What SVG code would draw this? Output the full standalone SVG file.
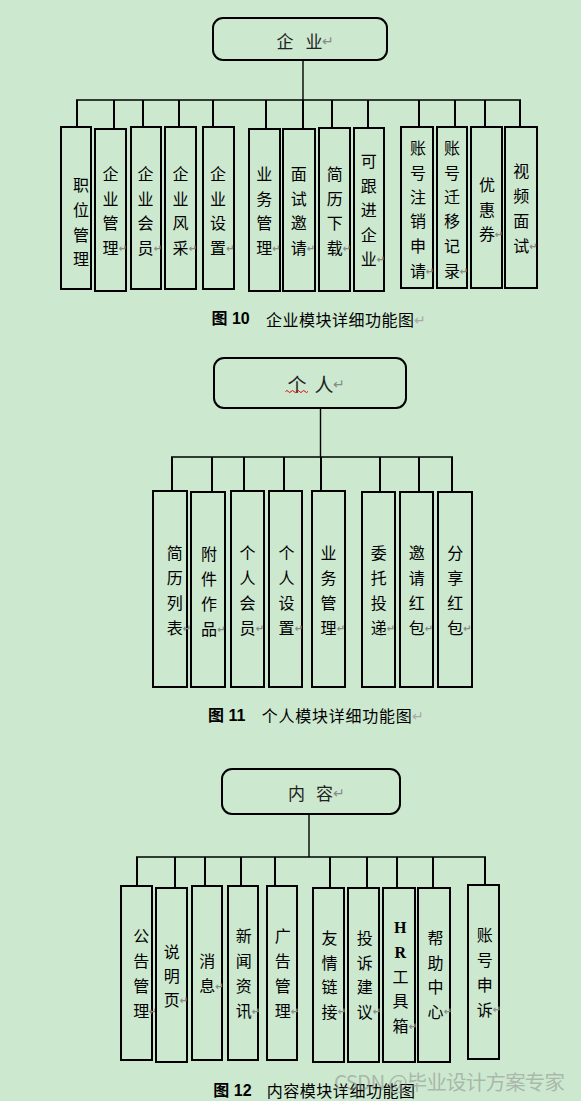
<svg xmlns="http://www.w3.org/2000/svg" width="581" height="1101" viewBox="0 0 581 1101">
<style>
.bx{fill:none;stroke:#000;stroke-width:2}
.rb{fill:none;stroke:#000;stroke-width:2}
.bus{stroke:#000;stroke-width:1.4;fill:none}
.stem{stroke:#000;stroke-width:2;fill:none}
.c{font-family:"Noto Sans CJK SC","Noto Sans CJK JP",sans-serif;font-size:16px;fill:#000;text-anchor:middle;dominant-baseline:central}
.rt{font-family:"Noto Sans CJK SC","Noto Sans CJK JP",sans-serif;font-size:17px;fill:#222;text-anchor:middle;dominant-baseline:central}
.pm{font-family:"DejaVu Sans",sans-serif;font-size:10px;font-weight:bold;fill:#8a8a8a;text-anchor:start;dominant-baseline:central}
.pr{font-family:"DejaVu Sans",sans-serif;font-size:14px;fill:#8a8a8a;text-anchor:start;dominant-baseline:central}
.cb{font-family:"Liberation Sans","Noto Sans CJK SC",sans-serif;font-size:16px;font-weight:bold;fill:#000;dominant-baseline:central}
.cr{font-family:"Noto Sans CJK SC","Noto Sans CJK JP",sans-serif;font-size:16px;fill:#000;dominant-baseline:central}
.lat{font-family:"Liberation Serif",serif;font-size:16px;font-weight:bold;fill:#000;text-anchor:middle;dominant-baseline:central}
</style>
<rect width="581" height="1101" fill="#cce8cf"/>

<g id="connectors">
  <line class="bus" x1="303" y1="60" x2="303" y2="100"/>
  <line class="bus" x1="76" y1="100" x2="521" y2="100"/>
  <line class="stem" x1="77" y1="100" x2="77" y2="127"/>
  <line class="stem" x1="114" y1="100" x2="114" y2="129"/>
  <line class="stem" x1="143" y1="100" x2="143" y2="127"/>
  <line class="stem" x1="179" y1="100" x2="179" y2="127"/>
  <line class="stem" x1="213" y1="100" x2="213" y2="127"/>
  <line class="stem" x1="266" y1="100" x2="266" y2="129"/>
  <line class="stem" x1="303" y1="100" x2="303" y2="129"/>
  <line class="stem" x1="332" y1="100" x2="332" y2="128"/>
  <line class="stem" x1="368" y1="100" x2="368" y2="128"/>
  <line class="stem" x1="419" y1="100" x2="419" y2="127"/>
  <line class="stem" x1="455" y1="100" x2="455" y2="127"/>
  <line class="stem" x1="485" y1="100" x2="485" y2="127"/>
  <line class="stem" x1="520" y1="100" x2="520" y2="127"/>
  <line class="bus" x1="320.5" y1="408" x2="320.5" y2="457"/>
  <line class="bus" x1="171" y1="457" x2="453" y2="457"/>
  <line class="stem" x1="172" y1="457" x2="172" y2="491"/>
  <line class="stem" x1="212" y1="457" x2="212" y2="492"/>
  <line class="stem" x1="244" y1="457" x2="244" y2="491"/>
  <line class="stem" x1="284" y1="457" x2="284" y2="491"/>
  <line class="stem" x1="321" y1="457" x2="321" y2="491"/>
  <line class="stem" x1="380" y1="457" x2="380" y2="492"/>
  <line class="stem" x1="419" y1="457" x2="419" y2="492"/>
  <line class="stem" x1="452" y1="457" x2="452" y2="492"/>
  <line class="bus" x1="309" y1="814" x2="309" y2="857"/>
  <line class="bus" x1="136" y1="857" x2="486" y2="857"/>
  <line class="stem" x1="137" y1="857" x2="137" y2="886"/>
  <line class="stem" x1="175" y1="857" x2="175" y2="888"/>
  <line class="stem" x1="205" y1="857" x2="205" y2="886"/>
  <line class="stem" x1="241" y1="857" x2="241" y2="886"/>
  <line class="stem" x1="275" y1="857" x2="275" y2="886"/>
  <line class="stem" x1="330" y1="857" x2="330" y2="888"/>
  <line class="stem" x1="367" y1="857" x2="367" y2="888"/>
  <line class="stem" x1="397" y1="857" x2="397" y2="888"/>
  <line class="stem" x1="433" y1="857" x2="433" y2="888"/>
  <line class="stem" x1="485" y1="857" x2="485" y2="885"/>
</g>

<g id="root-qiye">
  <rect class="rb" x="213" y="18" width="174" height="42" rx="10"/>
  <text class="rt"><tspan x="285" y="40">企</tspan><tspan x="314" y="40">业</tspan></text>
  <text class="pr" x="322" y="41">↵</text>
</g>
<g id="n1-zhiwei">
  <rect class="bx" x="61" y="127" width="30" height="162"/>
  <text class="c"><tspan x="81" y="183.5">职</tspan><tspan x="81" y="208.5">位</tspan><tspan x="81" y="233.5">管</tspan><tspan x="81" y="258">理</tspan></text>
</g>
<g id="n1-qyguanli">
  <rect class="bx" x="95" y="129" width="31" height="162"/>
  <text class="c"><tspan x="110.5" y="173">企</tspan><tspan x="110.5" y="197.5">业</tspan><tspan x="110.5" y="222">管</tspan><tspan x="110.5" y="246.8">理</tspan></text>
  <text class="pm" x="118.5" y="248">↵</text>
</g>
<g id="n1-qyhuiyuan">
  <rect class="bx" x="131" y="127" width="30" height="162"/>
  <text class="c"><tspan x="145.5" y="173">企</tspan><tspan x="145.5" y="197.5">业</tspan><tspan x="145.5" y="222">会</tspan><tspan x="145.5" y="246.8">员</tspan></text>
  <text class="pm" x="153.5" y="248">↵</text>
</g>
<g id="n1-qyfengcai">
  <rect class="bx" x="165" y="127" width="31" height="162"/>
  <text class="c"><tspan x="180.5" y="173">企</tspan><tspan x="180.5" y="197.5">业</tspan><tspan x="180.5" y="222">风</tspan><tspan x="180.5" y="246.8">采</tspan></text>
  <text class="pm" x="188.5" y="248">↵</text>
</g>
<g id="n1-qyshezhi">
  <rect class="bx" x="203" y="127" width="31" height="162"/>
  <text class="c"><tspan x="218" y="173">企</tspan><tspan x="218" y="197.5">业</tspan><tspan x="218" y="222">设</tspan><tspan x="218" y="246.8">置</tspan></text>
  <text class="pm" x="226" y="248">↵</text>
</g>
<g id="n1-yewu">
  <rect class="bx" x="249" y="129" width="31" height="162"/>
  <text class="c"><tspan x="264.2" y="173">业</tspan><tspan x="264.2" y="197.5">务</tspan><tspan x="264.2" y="222">管</tspan><tspan x="264.2" y="246.8">理</tspan></text>
  <text class="pm" x="272" y="248">↵</text>
</g>
<g id="n1-mianshi">
  <rect class="bx" x="283" y="129" width="32" height="162"/>
  <text class="c"><tspan x="298.7" y="173">面</tspan><tspan x="298.7" y="197.5">试</tspan><tspan x="298.7" y="222">邀</tspan><tspan x="298.7" y="246.8">请</tspan></text>
  <text class="pm" x="306.5" y="248">↵</text>
</g>
<g id="n1-jianli">
  <rect class="bx" x="319" y="128" width="31" height="163"/>
  <text class="c"><tspan x="334.7" y="173">简</tspan><tspan x="334.7" y="198">历</tspan><tspan x="334.7" y="222">下</tspan><tspan x="334.7" y="247">载</tspan></text>
  <text class="pm" x="342.5" y="248">↵</text>
</g>
<g id="n1-kegenjin">
  <rect class="bx" x="354" y="128" width="30" height="163"/>
  <text class="c"><tspan x="368.8" y="160">可</tspan><tspan x="368.8" y="185">跟</tspan><tspan x="368.8" y="209.3">进</tspan><tspan x="368.8" y="233.5">企</tspan><tspan x="368.8" y="258.3">业</tspan></text>
  <text class="pm" x="376.5" y="259.5">↵</text>
</g>
<g id="n1-zhuxiao">
  <rect class="bx" x="401" y="127" width="32" height="161"/>
  <text class="c"><tspan x="418" y="146.5">账</tspan><tspan x="418" y="171.5">号</tspan><tspan x="418" y="195.5">注</tspan><tspan x="418" y="220">销</tspan><tspan x="418" y="245">申</tspan><tspan x="418" y="270">请</tspan></text>
  <text class="pm" x="425.5" y="271">↵</text>
</g>
<g id="n1-qianyi">
  <rect class="bx" x="437" y="127" width="30" height="161"/>
  <text class="c"><tspan x="452" y="146.5">账</tspan><tspan x="452" y="171.5">号</tspan><tspan x="452" y="195.5">迁</tspan><tspan x="452" y="220">移</tspan><tspan x="452" y="245">记</tspan><tspan x="452" y="270">录</tspan></text>
  <text class="pm" x="459.5" y="271">↵</text>
</g>
<g id="n1-youhui">
  <rect class="bx" x="471" y="127" width="31" height="161"/>
  <text class="c"><tspan x="487" y="183.5">优</tspan><tspan x="487" y="208.5">惠</tspan><tspan x="487" y="233.3">券</tspan></text>
  <text class="pm" x="494.5" y="234.5">↵</text>
</g>
<g id="n1-shipin">
  <rect class="bx" x="505" y="127" width="32" height="161"/>
  <text class="c"><tspan x="521.3" y="170">视</tspan><tspan x="521.3" y="195">频</tspan><tspan x="521.3" y="220">面</tspan><tspan x="521.3" y="245">试</tspan></text>
  <text class="pm" x="529" y="246">↵</text>
</g>
<g id="caption10">
  <text class="cb" x="211.5" y="318.5">图 10</text>
  <text class="cr" x="266" y="318.5" textLength="148" lengthAdjust="spacing">企业模块详细功能图</text>
  <text class="pr" x="414" y="319.5" style="fill:#a8a8a8">↵</text>
</g>

<g id="root-geren">
  <rect class="rb" x="214" y="358" width="192" height="50" rx="10"/>
  <text class="rt" style="font-size:19px"><tspan x="297" y="383">个</tspan><tspan x="324" y="383">人</tspan></text>
  <text class="pr" x="333" y="384">↵</text>
  <path d="M285.5,391.5 q1.4,-2 2.8,0 t2.8,0 t2.8,0 t2.8,0 t2.8,0 t2.8,0 t2.8,0 t2.8,0" fill="none" stroke="#e00000" stroke-width="1"/>
</g>
<g id="n2-jianli">
  <rect class="bx" x="153" y="491" width="34" height="196"/>
  <text class="c"><tspan x="174.7" y="552">简</tspan><tspan x="174.7" y="577">历</tspan><tspan x="174.7" y="602">列</tspan><tspan x="174.7" y="627">表</tspan></text>
  <text class="pm" x="182.5" y="628">↵</text>
</g>
<g id="n2-fujian">
  <rect class="bx" x="191" y="492" width="34" height="195"/>
  <text class="c"><tspan x="209" y="553">附</tspan><tspan x="209" y="578">件</tspan><tspan x="209" y="603">作</tspan><tspan x="209" y="628">品</tspan></text>
  <text class="pm" x="217" y="629">↵</text>
</g>
<g id="n2-huiyuan">
  <rect class="bx" x="231" y="491" width="33" height="196"/>
  <text class="c"><tspan x="247.5" y="552">个</tspan><tspan x="247.5" y="577">人</tspan><tspan x="247.5" y="602">会</tspan><tspan x="247.5" y="627">员</tspan></text>
  <text class="pm" x="255.5" y="628">↵</text>
</g>
<g id="n2-shezhi">
  <rect class="bx" x="269" y="491" width="33" height="196"/>
  <text class="c"><tspan x="286.5" y="552">个</tspan><tspan x="286.5" y="577">人</tspan><tspan x="286.5" y="602">设</tspan><tspan x="286.5" y="627">置</tspan></text>
  <text class="pm" x="294.5" y="628">↵</text>
</g>
<g id="n2-yewu">
  <rect class="bx" x="312" y="491" width="33" height="196"/>
  <text class="c"><tspan x="328.5" y="552">业</tspan><tspan x="328.5" y="577">务</tspan><tspan x="328.5" y="602">管</tspan><tspan x="328.5" y="627">理</tspan></text>
  <text class="pm" x="336.5" y="628">↵</text>
</g>
<g id="n2-weituo">
  <rect class="bx" x="362" y="492" width="33" height="195"/>
  <text class="c"><tspan x="378.7" y="552">委</tspan><tspan x="378.7" y="577">托</tspan><tspan x="378.7" y="602">投</tspan><tspan x="378.7" y="627">递</tspan></text>
  <text class="pm" x="386.5" y="628">↵</text>
</g>
<g id="n2-yaoqing">
  <rect class="bx" x="400" y="492" width="33" height="195"/>
  <text class="c"><tspan x="416.7" y="552">邀</tspan><tspan x="416.7" y="577">请</tspan><tspan x="416.7" y="602">红</tspan><tspan x="416.7" y="627">包</tspan></text>
  <text class="pm" x="424.5" y="628">↵</text>
</g>
<g id="n2-fenxiang">
  <rect class="bx" x="438" y="492" width="34" height="195"/>
  <text class="c"><tspan x="455.3" y="552">分</tspan><tspan x="455.3" y="577">享</tspan><tspan x="455.3" y="602">红</tspan><tspan x="455.3" y="627">包</tspan></text>
  <text class="pm" x="463" y="628">↵</text>
</g>
<g id="caption11">
  <text class="cb" x="208" y="715">图 11</text>
  <text class="cr" x="261.7" y="715" textLength="150" lengthAdjust="spacing">个人模块详细功能图</text>
  <text class="pr" x="412" y="716" style="fill:#a8a8a8">↵</text>
</g>

<g id="root-neirong">
  <rect class="rb" x="222" y="769" width="178" height="45" rx="10"/>
  <text class="rt"><tspan x="296.5" y="792">内</tspan><tspan x="324.5" y="792">容</tspan></text>
  <text class="pr" x="333" y="793">↵</text>
</g>
<g id="n3-gonggao">
  <rect class="bx" x="121" y="886" width="31" height="174"/>
  <text class="c"><tspan x="141.3" y="935">公</tspan><tspan x="141.3" y="960">告</tspan><tspan x="141.3" y="985">管</tspan><tspan x="141.3" y="1010">理</tspan></text>
  <text class="pm" x="148.5" y="1011">↵</text>
</g>
<g id="n3-shuoming">
  <rect class="bx" x="156" y="888" width="31" height="174"/>
  <text class="c"><tspan x="171.7" y="950.7">说</tspan><tspan x="171.7" y="975">明</tspan><tspan x="171.7" y="999.3">页</tspan></text>
  <text class="pm" x="179.5" y="1000.5">↵</text>
</g>
<g id="n3-xiaoxi">
  <rect class="bx" x="192" y="886" width="30" height="174"/>
  <text class="c"><tspan x="207.2" y="960">消</tspan><tspan x="207.2" y="985">息</tspan></text>
  <text class="pm" x="215" y="986">↵</text>
</g>
<g id="n3-xinwen">
  <rect class="bx" x="228" y="886" width="30" height="174"/>
  <text class="c"><tspan x="243.8" y="935">新</tspan><tspan x="243.8" y="960">闻</tspan><tspan x="243.8" y="985">资</tspan><tspan x="243.8" y="1010">讯</tspan></text>
  <text class="pm" x="251.5" y="1011">↵</text>
</g>
<g id="n3-guanggao">
  <rect class="bx" x="267" y="886" width="30" height="174"/>
  <text class="c"><tspan x="282.8" y="935">广</tspan><tspan x="282.8" y="960">告</tspan><tspan x="282.8" y="985">管</tspan><tspan x="282.8" y="1010">理</tspan></text>
  <text class="pm" x="290.5" y="1011">↵</text>
</g>
<g id="n3-youqing">
  <rect class="bx" x="313" y="888" width="31" height="174"/>
  <text class="c"><tspan x="329.5" y="937">友</tspan><tspan x="329.5" y="961.5">情</tspan><tspan x="329.5" y="986">链</tspan><tspan x="329.5" y="1010.5">接</tspan></text>
  <text class="pm" x="337.5" y="1011.5">↵</text>
</g>
<g id="n3-tousu">
  <rect class="bx" x="348" y="888" width="31" height="174"/>
  <text class="c"><tspan x="364.7" y="937">投</tspan><tspan x="364.7" y="961.5">诉</tspan><tspan x="364.7" y="986">建</tspan><tspan x="364.7" y="1010.5">议</tspan></text>
  <text class="pm" x="372.5" y="1011.5">↵</text>
</g>
<g id="n3-hr">
  <rect class="bx" x="383" y="888" width="32" height="174"/>
  <text class="lat"><tspan x="400.2" y="926.7">H</tspan><tspan x="400.2" y="951.7">R</tspan></text>
  <text class="c"><tspan x="400.5" y="975.5">工</tspan><tspan x="400.5" y="1000">具</tspan><tspan x="400.5" y="1025">箱</tspan></text>
  <text class="pm" x="408.5" y="1026">↵</text>
</g>
<g id="n3-bangzhu">
  <rect class="bx" x="418" y="888" width="32" height="174"/>
  <text class="c"><tspan x="435.5" y="936.7">帮</tspan><tspan x="435.5" y="961.5">助</tspan><tspan x="435.5" y="986">中</tspan><tspan x="435.5" y="1010.5">心</tspan></text>
  <text class="pm" x="443.5" y="1011.5">↵</text>
</g>
<g id="n3-shensu">
  <rect class="bx" x="468" y="885" width="31" height="174"/>
  <text class="c"><tspan x="484.7" y="934">账</tspan><tspan x="484.7" y="959">号</tspan><tspan x="484.7" y="984">申</tspan><tspan x="484.7" y="1008.5">诉</tspan></text>
  <text class="pm" x="492.5" y="1009.5">↵</text>
</g>
<g id="caption12">
  <text class="cb" x="213.3" y="1090">图 12</text>
  <text class="cr" x="266.7" y="1090" textLength="148.3" lengthAdjust="spacing">内容模块详细功能图</text>
</g>
<text x="334" y="1081" textLength="231" lengthAdjust="spacing" style="font-family:'Noto Sans CJK SC',sans-serif;font-size:20.5px;fill:#8c8c8c;fill-opacity:0.55;dominant-baseline:central">CSDN @毕业设计方案专家</text>
</svg>
